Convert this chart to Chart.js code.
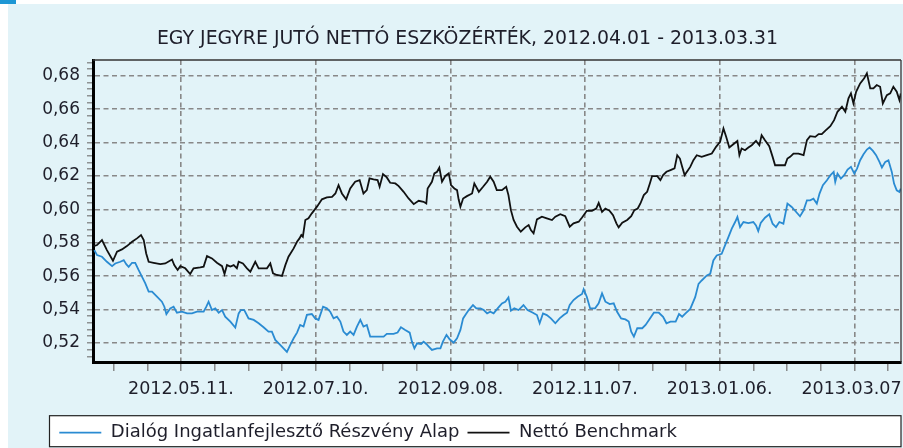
<!DOCTYPE html>
<html>
<head>
<meta charset="utf-8">
<script src="https://cdn.jsdelivr.net/npm/chart.js@4.4.1/dist/chart.umd.min.js"></script>
<style>
  html, body { margin: 0; padding: 0; background: #ffffff; overflow: hidden; width: 903px; height: 448px; }
  #corner { position: absolute; left: 0; top: 0; width: 16px; height: 4px; background: #1d97d5; }
  #wrap { position: absolute; left: 8px; top: 4px; width: 895px; height: 444px; background: #e2f3f8; }
  canvas { display: block; }
</style>
</head>
<body>
<div id="corner"></div>
<div id="wrap"><canvas id="c" width="895" height="444"></canvas></div>
<script>
// ---- data (x = days since 2012.04.01) ----
const titleText = 'EGY JEGYRE JUTÓ NETTÓ ESZKÖZÉRTÉK, 2012.04.01 - 2013.03.31';
const seriesNames = ['Dialóg Ingatlanfejlesztő Részvény Alap', 'Nettó Benchmark'];

const fundDays = [1.4,2.6,4.8,7.0,9.3,10.7,13.0,14.5,15.6,16.7,18.2,19.6,21.1,22.6,24.1,25.6,27.1,29.3,31.5,32.6,33.5,35.2,36.7,38.2,40.4,42.7,44.9,47.1,50.1,51.3,52.3,53.8,55.3,56.8,58.3,59.7,62.0,64.2,65.7,66.7,68.2,70.1,72.4,74.6,76.8,79.0,80.5,82.0,84.2,87.2,
88.7,90.2,91.7,93.1,94.6,96.1,98.3,99.8,101.3,103.3,105.0,106.5,108.0,109.5,111.0,112.4,113.9,115.4,116.9,118.4,119.9,121.3,122.8,124.3,127.3,130.3,131.7,134.7,136.5,138.0,139.9,141.9,142.9,144.0,145.2,147.0,148.1,149.3,150.4,151.8,154.1,155.6,156.7,158.3,159.7,161.5,163.0,164.5,165.7,166.7,168.2,170.1,171.6,173.4,174.9,176.4,
177.8,179.3,181.1,183.0,184.5,185.9,187.0,188.5,190.4,192.6,194.4,196.8,198.6,199.8,201.3,203.0,204.8,206.8,208.7,210.5,212.0,213.2,214.9,216.7,218.7,219.4,220.8,222.3,224.5,226.1,227.6,229.1,231.0,232.8,234.3,236.1,238.0,239.5,240.6,241.8,243.3,245.5,247.0,248.5,250.7,252.9,254.8,256.3,258.1,260.4,261.9,263.3,264.8,
266.9,269.1,270.6,272.0,274.3,275.8,277.2,278.7,280.9,282.4,283.9,285.4,286.9,287.9,289.1,290.6,292.8,295.0,296.2,297.2,298.3,300.2,302.1,303.6,305.1,306.6,308.4,310.2,312.1,314.1,315.8,317.4,318.9,320.3,321.8,323.3,324.5,326.0,327.8,329.3,330.8,331.5,332.5,334.0,335.5,337.0,338.5,340.0,341.2,342.6,344.1,345.6,346.8,348.3,349.7,351.2,352.3,353.8,355.2,356.7,357.7,358.9,360.1,360.7];
const fundValues = [0.5756,0.5726,0.5716,0.5686,0.566,0.5676,0.5686,0.5696,0.5672,0.5656,0.568,0.568,0.5637,0.5597,0.5557,0.5507,0.5507,0.5477,0.5447,0.5417,0.5373,0.5407,0.5417,0.5381,0.5387,0.5377,0.5377,0.5387,0.5387,0.5417,0.5447,0.5397,0.5407,0.5381,0.5397,0.5357,0.5328,0.5292,0.5377,0.5397,0.5397,0.5347,0.5338,0.5318,0.5294,0.5268,0.5268,0.5218,0.5188,0.5146,
0.5188,0.5228,0.5262,0.5308,0.5298,0.5368,0.5373,0.5347,0.5338,0.5417,0.5407,0.5387,0.5347,0.5357,0.5328,0.5268,0.5248,0.5268,0.5248,0.5298,0.5338,0.5298,0.5308,0.5238,0.5238,0.5238,0.5254,0.5254,0.5262,0.5294,0.5278,0.5262,0.5208,0.5168,0.5198,0.5194,0.5208,0.5194,0.5178,0.5158,0.5168,0.5168,0.5208,0.5248,0.5222,0.5202,0.5228,0.5278,0.5347,0.5368,0.5397,0.5427,0.5407,0.5407,0.5397,0.5377,
0.5387,0.5377,0.5407,0.5437,0.5447,0.5473,0.5393,0.5407,0.5397,0.5427,0.5397,0.5381,0.5367,0.5318,0.5377,0.5367,0.5347,0.5318,0.5347,0.5367,0.5381,0.5427,0.5457,0.5477,0.5493,0.5521,0.5477,0.5407,0.5407,0.5437,0.5497,0.5447,0.5433,0.5437,0.5387,0.5347,0.5341,0.5328,0.5268,0.5238,0.5288,0.5288,0.5308,0.5338,0.5381,0.5381,0.5357,0.5318,0.5328,0.5328,0.5373,0.5357,0.5377,
0.5404,0.5474,0.5554,0.5574,0.5604,0.5614,0.5694,0.5724,0.5734,0.5784,0.5834,0.5884,0.5924,0.5954,0.5894,0.5924,0.5918,0.5924,0.5904,0.587,0.5918,0.595,0.597,0.5914,0.5894,0.5924,0.5914,0.6034,0.6014,0.5984,0.5958,0.5994,0.6054,0.6054,0.6064,0.6034,0.6094,0.6144,0.6174,0.6204,0.6224,0.6164,0.6214,0.6184,0.6204,0.6238,0.6254,0.6214,0.6244,0.6294,0.633,0.6358,0.637,0.635,0.6324,0.6284,0.625,0.6284,0.6294,0.6224,0.6154,0.6114,0.6104,0.6124];

const benchDays = [1.1,2.6,4.8,7.0,9.7,11.5,13.7,15.9,18.2,20.4,22.2,23.4,24.5,25.6,27.8,30.8,33.0,36.0,37.0,38.5,39.7,41.9,44.1,45.6,48.6,50.1,51.6,53.8,56.0,58.3,59.4,60.5,62.0,63.5,64.9,65.7,67.6,69.4,70.9,73.1,74.6,76.8,78.3,79.8,81.0,82.7,85.0,86.5,87.9,
90.2,91.7,92.8,93.6,94.3,95.4,96.8,98.3,100.6,102.8,105.0,107.3,108.8,110.2,111.7,113.6,115.4,117.6,119.6,121.3,122.8,124.0,125.8,127.6,128.5,130.0,131.7,133.2,135.5,137.0,139.2,141.4,143.7,145.9,148.1,149.3,149.9,151.8,152.9,154.1,155.1,156.3,157.8,159.3,160.3,161.8,163.0,163.7,164.5,165.7,167.4,169.7,170.7,172.7,174.6,176.4,
177.8,179.3,180.7,183.0,184.9,185.9,187.0,188.2,189.7,191.4,193.4,194.9,195.9,197.1,198.6,200.8,203.0,205.3,206.8,209.0,211.2,213.2,214.9,217.2,218.7,220.8,223.1,225.0,226.1,227.6,229.1,231.0,232.5,234.0,235.0,236.6,238.8,240.6,242.0,243.5,244.7,246.2,247.7,248.9,249.9,252.2,253.6,254.8,256.3,258.1,259.9,261.1,262.3,263.3,264.4,
266.9,268.3,269.8,272.0,274.3,276.5,278.4,280.2,281.7,282.9,284.3,286.1,287.9,288.8,289.8,291.3,292.8,294.3,296.2,297.7,298.7,300.2,302.1,303.6,304.7,306.9,309.1,310.2,311.4,312.9,315.1,317.4,318.9,320.3,322.6,324.1,325.5,327.0,329.3,331.0,332.5,334.5,336.0,337.4,338.5,339.6,340.8,342.6,344.4,345.6,347.1,348.5,350.0,351.5,352.7,354.5,356.0,357.4,358.9,360.1,360.7];
const benchValues = [0.578,0.5786,0.5816,0.5756,0.5692,0.5746,0.576,0.578,0.5806,0.5826,0.5846,0.5816,0.5736,0.5686,0.568,0.5672,0.5676,0.570,0.5666,0.5637,0.566,0.5647,0.5613,0.5647,0.5653,0.5657,0.572,0.5706,0.568,0.566,0.5613,0.5666,0.5657,0.5666,0.5647,0.5686,0.5676,0.5647,0.5627,0.5686,0.5647,0.5647,0.5647,0.5676,0.5617,0.5607,0.5601,0.5666,0.5716,
0.5766,0.5806,0.5826,0.5846,0.5836,0.5936,0.5946,0.5976,0.6016,0.606,0.6071,0.6075,0.6095,0.6145,0.6095,0.606,0.6125,0.6165,0.6175,0.6095,0.6115,0.6185,0.6179,0.6175,0.6135,0.6211,0.6191,0.6159,0.6155,0.6139,0.6105,0.6065,0.6031,0.6051,0.6045,0.6035,0.6125,0.6165,0.6215,0.6225,0.625,0.6165,0.620,0.6215,0.6145,0.6125,0.6115,0.606,0.6016,0.6065,0.6079,0.6095,0.6155,0.6105,0.6135,0.6165,
0.6195,0.6165,0.6115,0.6115,0.6135,0.6085,0.5995,0.5936,0.5896,0.5866,0.5892,0.5906,0.5876,0.5856,0.594,0.5956,0.5946,0.5936,0.5956,0.5971,0.5959,0.5896,0.5916,0.5926,0.5951,0.5991,0.5991,0.6005,0.6039,0.5985,0.6005,0.5991,0.5965,0.5916,0.5892,0.592,0.5936,0.5959,0.5995,0.6005,0.6035,0.6085,0.6105,0.6155,0.6199,0.6199,0.6175,0.6205,0.6225,0.6235,0.6245,0.6324,0.6304,0.6255,0.6205,
0.6254,0.6294,0.6324,0.6314,0.6324,0.6334,0.6374,0.6404,0.6484,0.6434,0.637,0.639,0.641,0.6324,0.6364,0.6354,0.637,0.6384,0.641,0.6384,0.6444,0.6414,0.6378,0.6314,0.6264,0.6264,0.6264,0.6304,0.6314,0.6334,0.6334,0.6324,0.6414,0.6438,0.6434,0.645,0.645,0.647,0.6498,0.6534,0.6584,0.6614,0.6584,0.6664,0.6694,0.6634,0.6704,0.6754,0.6784,0.6814,0.6724,0.6724,0.6744,0.6734,0.6634,0.6684,0.6694,0.6734,0.6704,0.6654,0.6694];

const xTickDays = [40, 100, 160, 220, 280, 340];
const xTickLabels = ['2012.05.11.', '2012.07.10.', '2012.09.08.', '2012.11.07.', '2013.01.06.', '2013.03.07.'];
const yTickValues = [0.52, 0.54, 0.56, 0.58, 0.60, 0.62, 0.64, 0.66, 0.68];
const yTickLabels = ['0,52', '0,54', '0,56', '0,58', '0,60', '0,62', '0,64', '0,66', '0,68'];
const seriesColors = ['#2a8bd2', '#111111'];

// ---- helpers ----
const FONT = '"DejaVu Sans", sans-serif';
const toXY = (xs, ys) => xs.map((d, i) => ({ x: d, y: ys[i] }));
const xMinorTicks = [];
for (let d = 10; d <= 360; d += 15) xMinorTicks.push(d);
const yMinorTicks = [];
for (let k = 0; k <= 44; k++) yMinorTicks.push(Math.round((0.512 + k * 0.004) * 1000) / 1000);
const majorIndex = (arr, v) => arr.findIndex(t => Math.abs(t - v) < 1e-6);

const framePlugin = {
  id: 'frame',
  afterDatasetsDraw(chart) {
    const { ctx, chartArea: a } = chart;
    ctx.save();
    ctx.strokeStyle = '#333';
    ctx.lineWidth = 1.4;
    ctx.beginPath();
    ctx.moveTo(a.left, a.top); ctx.lineTo(a.right, a.top);
    ctx.stroke();
    ctx.lineWidth = 1.3;
    ctx.beginPath();
    ctx.moveTo(a.right, a.top); ctx.lineTo(a.right, a.bottom);
    ctx.stroke();
    ctx.restore();
  },
  afterDraw(chart) {
    const { ctx } = chart;
    ctx.save();
    // title
    ctx.font = '18.9px ' + FONT;
    ctx.fillStyle = '#1e1e2a';
    ctx.textAlign = 'center';
    ctx.textBaseline = 'alphabetic';
    ctx.fillText(titleText, 459.5, 39.5);
    // legend box
    ctx.fillStyle = '#ffffff';
    ctx.fillRect(41.5, 411.7, 851.5, 31);
    ctx.strokeStyle = '#222';
    ctx.lineWidth = 1.2;
    ctx.strokeRect(41.5, 411.7, 851.5, 31);
    ctx.font = '18px ' + FONT;
    ctx.textAlign = 'left';
    let x = 51.3;
    const ly = 428.7;
    chart.data.datasets.forEach(ds => {
      ctx.strokeStyle = ds.borderColor;
      ctx.lineWidth = 1.8;
      ctx.beginPath();
      ctx.moveTo(x, ly); ctx.lineTo(x + 42, ly);
      ctx.stroke();
      ctx.fillStyle = '#1e1e2a';
      const tx = x + 42 + 9.5;
      ctx.fillText(ds.label, tx, 432.8);
      x = tx + ctx.measureText(ds.label).width + 8;
    });
    ctx.restore();
  }
};

new Chart(document.getElementById('c'), {
  type: 'line',
  data: {
    datasets: [
      { label: seriesNames[0], data: toXY(fundDays, fundValues), borderColor: seriesColors[0], backgroundColor: seriesColors[0], borderWidth: 1.8, pointRadius: 0, tension: 0, fill: false },
      { label: seriesNames[1], data: toXY(benchDays, benchValues), borderColor: seriesColors[1], backgroundColor: seriesColors[1], borderWidth: 1.8, pointRadius: 0, tension: 0, fill: false }
    ]
  },
  options: {
    responsive: false,
    animation: false,
    devicePixelRatio: 1,
    layout: { padding: { top: 56, right: 2, bottom: 0, left: 0 } },
    plugins: { legend: { display: false }, title: { display: false }, tooltip: { enabled: false } },
    scales: {
      x: {
        type: 'linear',
        min: 0.8,
        max: 360.8,
        afterBuildTicks(scale) { scale.ticks = xMinorTicks.map(v => ({ value: v })); },
        afterFit(scale) { scale.height = 86; },
        ticks: {
          autoSkip: false, maxRotation: 0, minRotation: 0, padding: 8,
          color: '#1e1e2a', font: { family: FONT, size: 17.5 },
          callback(v) { const i = majorIndex(xTickDays, v); return i >= 0 ? xTickLabels[i] : ''; }
        },
        grid: {
          drawOnChartArea: true, drawTicks: true, tickLength: 9,
          lineWidth: 1.6, tickWidth: 1.3, tickColor: '#7a7a7a',
          color(ctx) { return ctx.tick && majorIndex(xTickDays, ctx.tick.value) >= 0 ? '#888888' : 'rgba(0,0,0,0)'; }
        },
        border: { display: true, width: 3, color: '#000', dash: [5, 3.5] }
      },
      y: {
        type: 'linear',
        min: 0.5086,
        max: 0.6894,
        afterBuildTicks(scale) { scale.ticks = yMinorTicks.map(v => ({ value: v })); },
        afterFit(scale) { scale.width = 85; },
        ticks: {
          autoSkip: false, padding: 7,
          color: '#1e1e2a', font: { family: FONT, size: 17 },
          callback(v) { const i = majorIndex(yTickValues, v); return i >= 0 ? yTickLabels[i] : ''; }
        },
        grid: {
          drawOnChartArea: true, drawTicks: true, tickLength: 6,
          lineWidth: 1.6, tickWidth: 1.2, tickColor: '#7a7a7a',
          color(ctx) { return ctx.tick && majorIndex(yTickValues, ctx.tick.value) >= 0 ? '#888888' : 'rgba(0,0,0,0)'; }
        },
        border: { display: true, width: 3, color: '#000', dash: [5, 3.5] }
      }
    }
  },
  plugins: [framePlugin]
});
</script>
</body>
</html>
